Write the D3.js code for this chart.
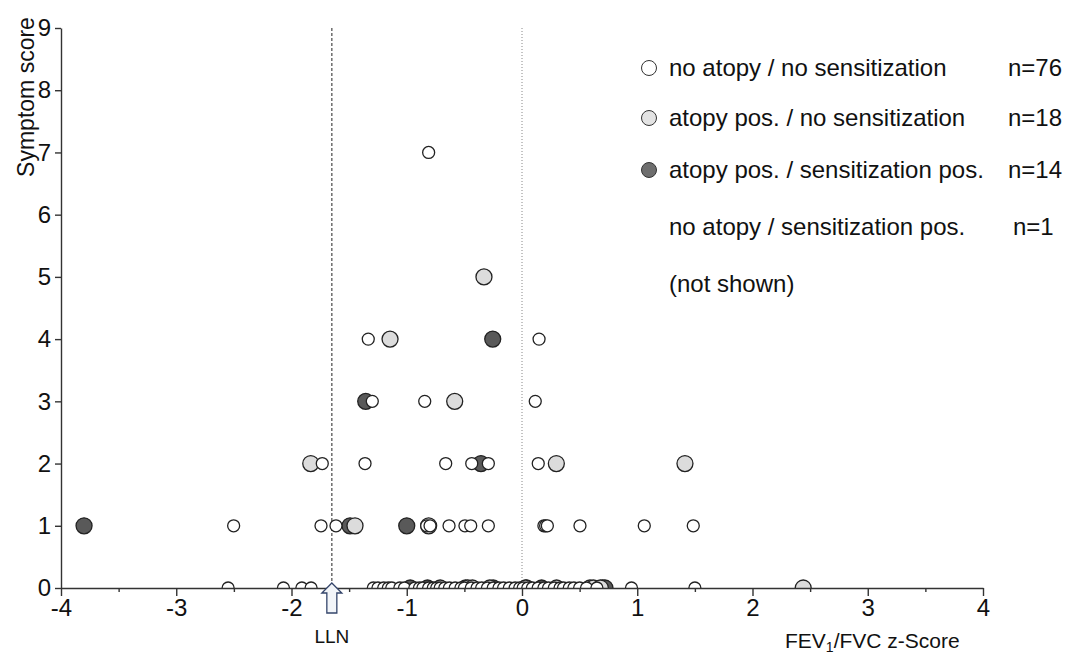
<!DOCTYPE html>
<html>
<head>
<meta charset="utf-8">
<script src="https://cdn.jsdelivr.net/npm/d3@7"></script>
<style>
  body { margin: 0; background: #fff; }
  svg text { font-family: "Liberation Sans", Arial, sans-serif; fill: #111; }
</style>
</head>
<body>
<div id="chart"></div>
<script>
// [FEV1/FVC z-score, symptom score]
const noAtopyNoSens = [
    [-0.81, 7],
    [-1.334, 4], [0.148, 4],
    [-1.299, 3], [-0.844, 3], [0.115, 3],
    [-1.733, 2], [-1.362, 2], [-0.662, 2], [-0.436, 2], [-0.292, 2], [0.141, 2],
    [-2.502, 1], [-1.744, 1], [-1.614, 1], [-0.827, 1], [-0.798, 1], [-0.633, 1], [-0.495, 1],
    [-0.445, 1], [-0.292, 1], [0.19, 1], [0.205, 1], [0.22, 1], [0.503, 1], [1.061, 1], [1.486, 1],
    [-2.55, 0], [-2.07, 0], [-1.91, 0], [-1.83, 0], [-1.29, 0], [-1.25, 0], [-1.20, 0], [-1.16, 0],
    [-1.13, 0], [-1.06, 0], [-1.02, 0], [-0.93, 0], [-0.89, 0], [-0.86, 0], [-0.81, 0], [-0.77, 0],
    [-0.74, 0], [-0.71, 0], [-0.67, 0], [-0.63, 0], [-0.58, 0], [-0.53, 0], [-0.50, 0], [-0.44, 0],
    [-0.39, 0], [-0.35, 0], [-0.30, 0], [-0.25, 0], [-0.20, 0], [-0.16, 0], [-0.11, 0], [-0.06, 0],
    [-0.02, 0], [0.01, 0], [0.05, 0], [0.09, 0], [0.14, 0], [0.19, 0], [0.23, 0], [0.28, 0],
    [0.33, 0], [0.36, 0], [0.41, 0], [0.45, 0], [0.50, 0], [0.56, 0], [0.65, 0], [0.95, 0], [1.50, 0]
];
const atopyNoSens = [
    [-0.33, 5], [-1.145, 4], [-0.584, 3],
    [-1.833, 2], [0.298, 2], [1.414, 2],
    [-1.449, 1], [-0.81, 1],
    [-0.71, 0], [-0.47, 0], [-0.43, 0], [-0.28, 0], [0.03, 0], [0.30, 0], [0.59, 0], [0.62, 0], [0.68, 0], [2.44, 0]
];
const atopySens = [
    [-0.254, 4], [-1.356, 3], [-0.356, 2],
    [-3.80, 1], [-1.492, 1], [-1.0, 1],
    [-0.97, 0], [-0.82, 0], [-0.49, 0], [-0.25, 0], [0.04, 0], [0.17, 0], [0.70, 0], [0.72, 0]
];

const xTicks = [-4, -3, -2, -1, 0, 1, 2, 3, 4];
const xMinorTicks = [-3.5, -2.5, -1.5, -0.5, 0.5, 1.5, 2.5, 3.5];
const yTicks = [0, 1, 2, 3, 4, 5, 6, 7, 8, 9];
const lln = -1.65;

const legendLabels = [
    "no atopy / no sensitization",
    "atopy pos. / no sensitization",
    "atopy pos. / sensitization pos.",
    "no atopy / sensitization pos.",
    "(not shown)"
];
const legendCounts = ["n=76", "n=18", "n=14", "n=1", ""];

const width = 1066;
const height = 656;

const svg = d3.select("#chart").append("svg")
    .attr("width", width)
    .attr("height", height);

const x = d3.scaleLinear().domain([-4, 4]).range([61, 983]);
const y = d3.scaleLinear().domain([0, 9]).range([588, 28]);

// reference lines
svg.append("line")
    .attr("x1", x(lln)).attr("x2", x(lln))
    .attr("y1", y(9)).attr("y2", y(0))
    .attr("stroke", "#555").attr("stroke-width", 1.3)
    .attr("stroke-dasharray", "3,2");

svg.append("line")
    .attr("x1", x(0)).attr("x2", x(0))
    .attr("y1", y(9)).attr("y2", y(0))
    .attr("stroke", "#888").attr("stroke-width", 1)
    .attr("stroke-dasharray", "1,2");

// clip points at the x axis
svg.append("clipPath").attr("id", "plotClip")
    .append("rect")
    .attr("x", 0).attr("y", 0)
    .attr("width", width).attr("height", y(0));

const points = svg.append("g").attr("clip-path", "url(#plotClip)");

function drawGroup(data, r, fill) {
    points.append("g")
        .selectAll("circle")
        .data(data)
        .enter()
        .append("circle")
        .attr("cx", d => x(d[0]))
        .attr("cy", d => y(d[1]))
        .attr("r", r)
        .attr("fill", fill)
        .attr("stroke", "#222")
        .attr("stroke-width", 1.3);
}

drawGroup(atopySens, 8, "#595959");
drawGroup(atopyNoSens, 8, "#dcdcdc");
drawGroup(noAtopyNoSens, 6, "#fff");

// axes
const xAxis = svg.append("g")
    .attr("transform", `translate(0, ${y(0)})`)
    .call(d3.axisBottom(x).tickValues(xTicks).tickSize(8).tickSizeOuter(0).tickFormat(d => d < 0 ? "-" + Math.abs(d) : d));
xAxis.selectAll("text").attr("y", 11).style("font-size", "24px");

svg.append("g")
    .attr("transform", `translate(0, ${y(0)})`)
    .call(d3.axisBottom(x).tickValues(xMinorTicks).tickSize(4).tickSizeOuter(0).tickFormat(""))
    .select(".domain").remove();

const yAxis = svg.append("g")
    .attr("transform", `translate(${x(-4)}, 0)`)
    .call(d3.axisLeft(y).tickValues(yTicks).tickSize(6).tickSizeOuter(0).tickPadding(4));
yAxis.selectAll("text").style("font-size", "24px");

svg.selectAll(".domain, .tick line").attr("stroke", "#333").attr("stroke-width", 1.4);
svg.selectAll(".tick text").style("fill", "#111").style("font-family", "'Liberation Sans', Arial, sans-serif");

// axis titles
svg.append("text")
    .attr("transform", `translate(26, 97) rotate(-90)`)
    .attr("dy", "0.35em")
    .attr("text-anchor", "middle")
    .style("font-size", "23px")
    .text("Symptom score");

const xt = svg.append("text")
    .attr("x", 785).attr("y", 648)
    .style("font-size", "21px");
xt.append("tspan").text("FEV");
xt.append("tspan").attr("dy", 4).style("font-size", "14px").text("1");
xt.append("tspan").attr("dy", -4).text("/FVC z-Score");

// LLN arrow
const ax = x(lln);
const arrowTop = y(0) - 5;
svg.append("path")
    .attr("d", `M${ax},${arrowTop} L${ax + 10},${arrowTop + 10} L${ax + 5},${arrowTop + 10} L${ax + 5},${arrowTop + 30}
               L${ax - 5},${arrowTop + 30} L${ax - 5},${arrowTop + 10} L${ax - 10},${arrowTop + 10} Z`)
    .attr("fill", "#f2f5f9")
    .attr("stroke", "#34456b")
    .attr("stroke-width", 1.3);

svg.append("text")
    .attr("x", ax).attr("y", 643)
    .attr("text-anchor", "middle")
    .style("font-size", "19px")
    .text("LLN");

// legend
const legendFills = ["#fff", "#e3e3e3", "#6e6e6e"];
const legendRows = [68, 118, 170, 227, 284];

const legend = svg.append("g");
legendFills.forEach((f, i) => {
    legend.append("circle")
        .attr("cx", 649).attr("cy", legendRows[i])
        .attr("r", 7.5)
        .attr("fill", f)
        .attr("stroke", "#333")
        .attr("stroke-width", 1);
});
legendLabels.forEach((t, i) => {
    legend.append("text")
        .attr("x", 669).attr("y", legendRows[i])
        .attr("dy", "0.35em")
        .style("font-size", "24px")
        .text(t);
    legend.append("text")
        .attr("x", i === 3 ? 1013 : 1008).attr("y", legendRows[i])
        .attr("dy", "0.35em")
        .style("font-size", "24px")
        .text(legendCounts[i]);
});
</script>
</body>
</html>
